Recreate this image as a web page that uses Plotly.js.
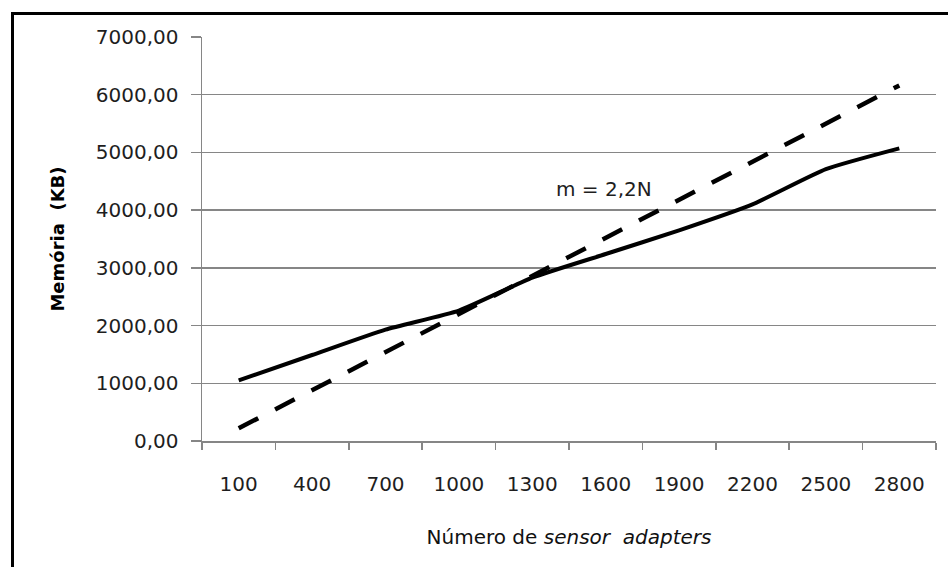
<!DOCTYPE html>
<html>
<head>
<meta charset="utf-8">
<script src="https://cdn.plot.ly/plotly-3.0.1.min.js"></script>
<style>
  html, body { margin: 0; padding: 0; background: #fff; }
  #wrap { position: relative; width: 948px; height: 567px; overflow: hidden; }
  #frame { position: absolute; left: 11px; top: 12px; width: 1000px; height: 600px;
           border-left: 3px solid #000; border-top: 3px solid #000; pointer-events: none; }
  #chart { position: absolute; left: 0; top: 0; width: 948px; height: 567px; }
</style>
</head>
<body>
<div id="wrap">
  <div id="chart"></div>
  <div id="frame"></div>
</div>
<script>
// Data
const categories = ['100', '400', '700', '1000', '1300', '1600', '1900', '2200', '2500', '2800'];
const memoria = [1050, 1490, 1930, 2260, 2830, 3240, 3650, 4100, 4710, 5070];
const modelo = [220, 880, 1540, 2200, 2860, 3520, 4180, 4840, 5500, 6160]; // m = 2,2N
const yTicks = [0, 1000, 2000, 3000, 4000, 5000, 6000, 7000];

const traces = [
  {
    x: categories, y: modelo, type: 'scatter', mode: 'lines',
    line: { color: '#000', width: 4.5, dash: '22px,19px' },
    hoverinfo: 'skip'
  },
  {
    x: categories, y: memoria, type: 'scatter', mode: 'lines',
    line: { color: '#000', width: 4, shape: 'spline', smoothing: 0.5 },
    hoverinfo: 'skip'
  }
];

const tickFont = { family: 'DejaVu Sans', size: 20, color: '#1e1e1e' };

const layout = {
  width: 948, height: 567,
  margin: { l: 202, r: 12, t: 37, b: 126 },
  paper_bgcolor: '#fff', plot_bgcolor: '#fff',
  separators: ',.',
  showlegend: false,
  xaxis: {
    type: 'category',
    categoryarray: categories,
    range: [-0.5, categories.length - 0.5],
    autorange: false,
    tickson: 'boundaries',
    ticks: 'outside', ticklen: 7, tickcolor: '#868686', tickwidth: 1.5,
    showline: true, linecolor: '#868686', linewidth: 1.5,
    showgrid: false, zeroline: false,
    tickfont: tickFont,
    tickangle: 0,
    ticklabelstandoff: 24,
    automargin: false,
    title: {
      text: 'Número de <i>sensor  adapters</i>',
      font: { family: 'DejaVu Sans', size: 20, color: '#111' },
      standoff: 35
    }
  },
  yaxis: {
    range: [0, 7000],
    autorange: false,
    tickvals: yTicks,
    tickformat: '.2f',
    ticks: 'outside', ticklen: 10, tickcolor: '#868686', tickwidth: 1.5,
    showline: true, linecolor: '#868686', linewidth: 1.5,
    showgrid: true, gridcolor: '#868686', gridwidth: 1.5,
    zeroline: false,
    tickfont: tickFont,
    ticklabelstandoff: 8,
    automargin: false,
    title: {
      text: '<b>Memória  (KB)</b>',
      font: { family: 'DejaVu Sans', size: 18, color: '#000' },
      standoff: 26
    }
  },
  annotations: [
    {
      x: 4.97, y: 4360, xref: 'x', yref: 'y',
      text: 'm = 2,2N', showarrow: false,
      font: { family: 'DejaVu Sans', size: 20, color: '#1e1e1e' }
    }
  ]
};

Plotly.newPlot('chart', traces, layout, { staticPlot: true, displayModeBar: false });
</script>
</body>
</html>
